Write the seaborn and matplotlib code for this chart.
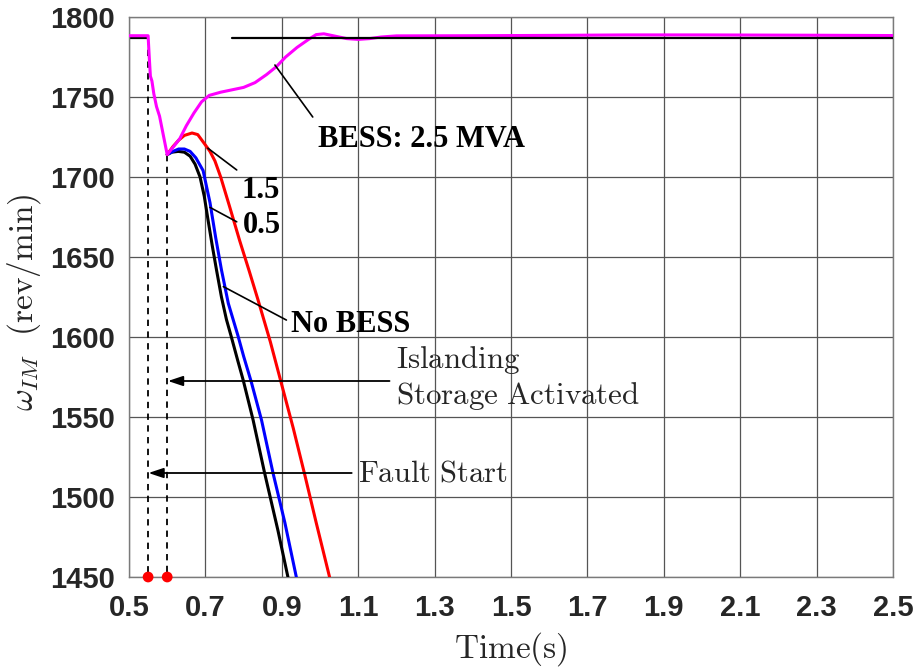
import numpy as np
import pandas as pd
import matplotlib
matplotlib.use("Agg")
import matplotlib.pyplot as plt
import seaborn as sns

# ---------------- data ----------------
steady_speed = 1787
fault_t = 0.55
island_t = 0.60

mag_t = [0.50, 0.55, 0.553, 0.556, 0.56, 0.565, 0.572, 0.58, 0.59, 0.60,
         0.61, 0.62, 0.633, 0.65, 0.67, 0.69, 0.71, 0.74, 0.77, 0.80, 0.83,
         0.86, 0.886, 0.91, 0.94, 0.97, 0.99, 1.01, 1.04, 1.07, 1.10, 1.13,
         1.16, 1.20, 1.40, 1.60, 1.80, 2.00, 2.30, 2.50]
mag_w = [1788.3, 1788.3, 1775, 1763, 1760, 1752, 1744, 1738, 1726, 1714,
         1717, 1720, 1724, 1732, 1740, 1747, 1751, 1753, 1754.5, 1756, 1759,
         1764, 1769, 1775, 1781, 1786, 1789, 1789.5, 1788, 1786.5, 1786, 1786.5,
         1787.5, 1788.2, 1788.3, 1788.5, 1788.8, 1788.8, 1788.6, 1788.4]

red_t = [0.60, 0.615, 0.63, 0.645, 0.665, 0.68, 0.70, 0.712, 0.725, 0.74,
         0.764, 0.79, 0.815, 0.838, 0.87, 0.90, 0.93, 0.96, 0.99, 1.025, 1.035]
red_w = [1714, 1719, 1723, 1726, 1727.5, 1726.5, 1720, 1716, 1710, 1700,
         1681, 1660, 1641, 1623, 1597, 1570, 1543, 1514, 1484, 1450, 1440]

blue_t = [0.60, 0.615, 0.63, 0.645, 0.66, 0.675, 0.694, 0.712, 0.727, 0.742,
          0.76, 0.785, 0.80, 0.82, 0.847, 0.877, 0.908, 0.938, 0.945]
blue_w = [1714, 1716, 1717.5, 1717.5, 1716, 1712, 1704, 1684, 1662, 1642,
          1621, 1601, 1588, 1572, 1548, 1515, 1484, 1450, 1440]

black_t = [0.60, 0.612, 0.629, 0.645, 0.66, 0.673, 0.686, 0.697, 0.707, 0.718,
           0.729, 0.742, 0.755, 0.768, 0.785, 0.799, 0.825, 0.855, 0.89, 0.916, 0.923]
black_w = [1714, 1715.5, 1716, 1715.5, 1713, 1708, 1700, 1688, 1673, 1657,
           1642, 1625, 1611, 1600, 1585, 1573, 1548, 1515, 1479, 1450, 1440]

ref_t_a = [0.50, 0.55]
ref_t_b = [0.77, 2.50]

cases = ["No BESS", "0.5", "1.5", "BESS: 2.5 MVA"]
colors = ["#000000", "#0000ff", "#ff0000", "#ff00ff"]

x_ticks = [0.5, 0.7, 0.9, 1.1, 1.3, 1.5, 1.7, 1.9, 2.1, 2.3, 2.5]
y_ticks = [1450, 1500, 1550, 1600, 1650, 1700, 1750, 1800]
x_lim = (0.5, 2.5)
y_lim = (1450, 1800)

df = pd.concat([
    pd.DataFrame({"t": black_t, "w": black_w, "case": cases[0]}),
    pd.DataFrame({"t": blue_t, "w": blue_w, "case": cases[1]}),
    pd.DataFrame({"t": red_t, "w": red_w, "case": cases[2]}),
    pd.DataFrame({"t": mag_t, "w": mag_w, "case": cases[3]}),
], ignore_index=True)

# ---------------- style ----------------
sns.set_style("white")
plt.rcParams["mathtext.fontset"] = "cm"
plt.rcParams["font.family"] = ["Liberation Sans", "DejaVu Sans"]

fig = plt.figure(figsize=(9.17, 6.67), dpi=100)
ax = fig.add_axes([129 / 917, 1 - 577 / 667, 764 / 917, 560 / 667])

sns.lineplot(data=df, x="t", y="w", hue="case", hue_order=cases,
             palette=colors, sort=False, estimator=None, lw=2.2,
             legend=False, ax=ax, zorder=3)

# reference line at steady speed
ax.plot(ref_t_a, [steady_speed] * 2, color="black", lw=1.6, zorder=2)
ax.plot(ref_t_b, [steady_speed] * 2, color="black", lw=1.6, zorder=4)

# dashed event markers
ax.plot([fault_t, fault_t], [steady_speed, y_lim[0]], color="black",
        lw=1.3, ls=(0, (3.5, 3)), zorder=2)
ax.plot([island_t, island_t], [mag_w[mag_t.index(island_t)], y_lim[0]],
        color="black", lw=1.3, ls=(0, (3.5, 3)), zorder=2)
sns.scatterplot(x=[fault_t, island_t], y=[y_lim[0], y_lim[0]], color="#ff0000",
                s=60, edgecolor="none", clip_on=False, zorder=5, ax=ax)

# leader lines + bold labels
bold = dict(family="Liberation Serif", weight="bold", size=22, color="black")
ax.plot([0.882, 0.981], [1770, 1737.5], color="black", lw=1.2, zorder=4)
ax.text(0.994, 1718.5, "BESS: 2.5 MVA", ha="left", va="baseline", **bold)
ax.plot([0.7065, 0.782], [1718, 1704.4], color="black", lw=1.2, zorder=4)
ax.text(0.795, 1687, "1.5", ha="left", va="baseline", **bold)
ax.plot([0.712, 0.782], [1681, 1672], color="black", lw=1.2, zorder=4)
ax.text(0.798, 1665, "0.5", ha="left", va="baseline", **bold)
ax.plot([0.747, 0.912], [1631.5, 1610.6], color="black", lw=1.2, zorder=4)
ax.text(0.925, 1603.3, "No BESS", ha="left", va="baseline", **bold)

# arrows with serif annotations
arrow = dict(arrowstyle="-|>,head_length=0.9,head_width=0.3", color="black",
             lw=1.3, shrinkA=0, shrinkB=0)
ax.annotate("", xy=(0.602, 1572.5), xytext=(1.182, 1572.5), arrowprops=arrow,
            zorder=4)
ax.text(1.198, 1574.5, "$\\mathrm{Islanding}$\n$\\mathrm{Storage\\ Activated}$",
        ha="left", va="center", fontsize=22.3, linespacing=1.18)
ax.annotate("", xy=(0.551, 1515), xytext=(1.083, 1515), arrowprops=arrow,
            zorder=4)
ax.text(1.099, 1515, "$\\mathrm{Fault\\ Start}$", ha="left", va="center",
        fontsize=22)

# axes
ax.set_xlim(*x_lim)
ax.set_ylim(*y_lim)
ax.set_xticks(x_ticks)
ax.set_xticklabels([f"{v:.1f}" for v in x_ticks])
ax.set_yticks(y_ticks)
ax.set_yticklabels([str(v) for v in y_ticks])
ax.tick_params(axis="both", length=0, labelsize=21, labelcolor="#262626")
ax.tick_params(axis="x", pad=12)
ax.tick_params(axis="y", pad=10)
for lbl in ax.get_xticklabels() + ax.get_yticklabels():
    lbl.set_fontweight("bold")

ax.grid(True, color="#555555", lw=0.9)
ax.set_axisbelow(True)
for s in ax.spines.values():
    s.set_color("#7a7a7a")
    s.set_linewidth(1.0)

ax.set_xlabel("$\\mathrm{Time(s)}$", fontsize=24, color="#262626")
ax.set_ylabel("$\\omega_{IM}\\ \\ \\mathrm{(rev/min)}$", fontsize=24, color="#262626")
ax.xaxis.set_label_coords(0.5, -0.094)
ax.yaxis.set_label_coords(-0.112, 0.49)

fig.savefig("out.png", dpi=100)
